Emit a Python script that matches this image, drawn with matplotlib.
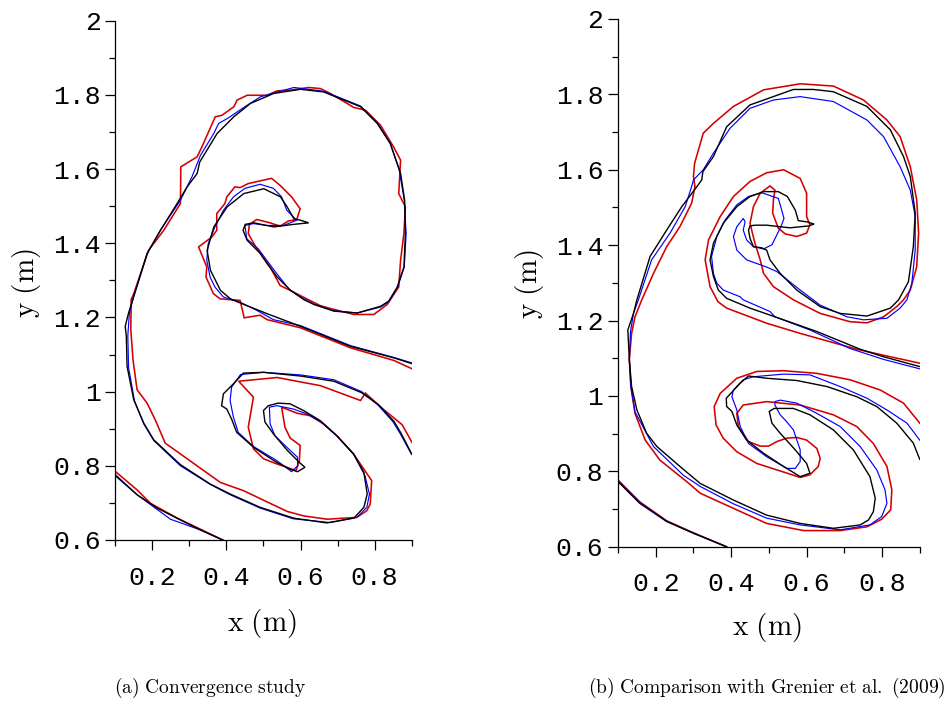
import numpy as np
import matplotlib
matplotlib.use("Agg")
import matplotlib.pyplot as plt
from matplotlib.ticker import MultipleLocator, FormatStrFormatter

plt.rcParams['mathtext.fontset'] = 'cm'

# ---- digitised interface contours (x, y) in metres ----
# (a) convergence study
a_black = [(0.900,0.832),(0.870,0.890),(0.852,0.920),(0.810,0.965),(0.765,0.997),(0.690,1.028),
           (0.600,1.042),(0.500,1.052),(0.446,1.050),(0.419,1.021),(0.392,0.994),(0.387,0.962),
           (0.401,0.953),(0.414,0.926),(0.428,0.890),(0.473,0.850),(0.536,0.809),(0.572,0.791),
           (0.592,0.784),(0.612,0.796),(0.597,0.809),(0.563,0.843),(0.527,0.886),(0.504,0.918),
           (0.500,0.949),(0.513,0.962),(0.540,0.969),(0.572,0.967),(0.608,0.949),(0.653,0.922),
           (0.698,0.881),(0.743,0.832),(0.771,0.782),(0.780,0.724),(0.771,0.688),(0.744,0.659),
           (0.671,0.646),(0.581,0.659),(0.491,0.688),(0.410,0.724),(0.356,0.751),(0.276,0.803),
           (0.204,0.870),(0.177,0.915),(0.150,0.978),(0.132,1.068),(0.130,1.149),(0.127,1.176),
           (0.136,1.212),(0.150,1.256),(0.186,1.372),(0.222,1.435),(0.267,1.507),(0.294,1.552),
           (0.321,1.588),(0.328,1.619),(0.375,1.696),(0.420,1.741),(0.465,1.777),(0.528,1.804),
           (0.600,1.815),(0.662,1.808),(0.762,1.768),(0.807,1.723),(0.842,1.669),(0.870,1.588),
           (0.881,1.516),(0.883,1.426),(0.879,1.336),(0.861,1.282),(0.838,1.244),(0.816,1.230),
           (0.753,1.212),(0.690,1.217),(0.636,1.235),(0.609,1.248),(0.573,1.273),(0.537,1.309),
           (0.510,1.345),(0.492,1.372),(0.456,1.408),(0.445,1.435),(0.451,1.451),(0.474,1.455),
           (0.528,1.444),(0.582,1.451),(0.622,1.455),(0.600,1.462),(0.582,1.466),(0.564,1.498),
           (0.546,1.525),(0.501,1.547),(0.447,1.534),(0.402,1.498),(0.366,1.444),(0.348,1.381),
           (0.357,1.327),(0.384,1.273),(0.411,1.250),(0.440,1.238),(0.510,1.210),(0.600,1.176),
           (0.735,1.122),(0.852,1.091),(0.902,1.075)]
a_blue = [(0.900,0.830),(0.870,0.885),(0.850,0.918),(0.810,0.963),(0.765,1.000),(0.690,1.032),
          (0.600,1.045),(0.500,1.052),(0.438,1.046),(0.414,1.012),(0.410,0.976),(0.419,0.931),
          (0.432,0.890),(0.473,0.852),(0.536,0.814),(0.576,0.784),(0.592,0.800),(0.592,0.823),
          (0.563,0.850),(0.531,0.881),(0.518,0.913),(0.516,0.958),(0.536,0.962),(0.581,0.953),
          (0.617,0.940),(0.653,0.920),(0.698,0.881),(0.743,0.832),(0.774,0.773),(0.786,0.724),
          (0.779,0.688),(0.752,0.661),(0.680,0.647),(0.581,0.657),(0.491,0.686),(0.410,0.722),
          (0.356,0.750),(0.276,0.800),(0.204,0.868),(0.177,0.913),(0.152,0.975),(0.136,1.065),
          (0.134,1.150),(0.138,1.210),(0.151,1.262),(0.186,1.372),(0.222,1.435),(0.276,1.516),
          (0.307,1.579),(0.330,1.637),(0.366,1.696),(0.379,1.723),(0.402,1.736),(0.456,1.772),
          (0.492,1.795),(0.582,1.820),(0.662,1.810),(0.762,1.770),(0.807,1.725),(0.842,1.670),
          (0.866,1.600),(0.880,1.516),(0.885,1.426),(0.880,1.336),(0.862,1.282),(0.838,1.242),
          (0.816,1.228),(0.753,1.212),(0.690,1.218),(0.636,1.236),(0.609,1.250),(0.570,1.275),
          (0.536,1.318),(0.509,1.354),(0.486,1.385),(0.455,1.412),(0.450,1.448),(0.473,1.453),
          (0.509,1.448),(0.554,1.448),(0.590,1.462),(0.581,1.471),(0.563,1.489),(0.549,1.525),
          (0.527,1.548),(0.491,1.559),(0.450,1.548),(0.419,1.525),(0.392,1.489),(0.369,1.444),
          (0.351,1.399),(0.347,1.354),(0.356,1.309),(0.369,1.282),(0.392,1.255),(0.437,1.241),
          (0.482,1.219),(0.527,1.194),(0.600,1.178),(0.735,1.124),(0.852,1.092),(0.902,1.077)]
a_red = [(0.902,0.861),(0.874,0.911),(0.825,0.951),(0.775,0.996),(0.762,0.976),(0.654,1.016),
         (0.537,1.038),(0.433,1.028),(0.473,0.985),(0.459,0.904),(0.473,0.846),(0.500,0.819),
         (0.536,0.805),(0.563,0.796),(0.588,0.787),(0.597,0.814),(0.599,0.855),(0.572,0.875),
         (0.558,0.904),(0.549,0.958),(0.590,0.942),(0.626,0.935),(0.662,0.913),(0.698,0.881),
         (0.743,0.832),(0.775,0.785),(0.792,0.760),(0.788,0.697),(0.779,0.679),(0.752,0.661),
         (0.672,0.656),(0.608,0.665),(0.564,0.677),(0.446,0.733),(0.384,0.755),(0.235,0.861),
         (0.208,0.924),(0.186,0.969),(0.159,1.005),(0.148,1.086),(0.142,1.167),(0.143,1.248),
         (0.150,1.264),(0.190,1.381),(0.231,1.435),(0.276,1.507),(0.277,1.606),(0.321,1.633),
         (0.334,1.660),(0.370,1.741),(0.388,1.745),(0.420,1.768),(0.429,1.786),(0.456,1.799),
         (0.510,1.799),(0.537,1.811),(0.573,1.813),(0.622,1.820),(0.654,1.817),(0.680,1.804),
         (0.744,1.766),(0.775,1.759),(0.816,1.718),(0.851,1.660),(0.870,1.624),(0.865,1.534),
         (0.883,1.498),(0.879,1.426),(0.870,1.354),(0.865,1.282),(0.834,1.235),(0.798,1.208),
         (0.744,1.208),(0.681,1.224),(0.653,1.232),(0.617,1.250),(0.572,1.273),(0.545,1.286),
         (0.518,1.336),(0.495,1.367),(0.477,1.394),(0.459,1.426),(0.462,1.451),(0.482,1.464),
         (0.518,1.455),(0.545,1.446),(0.567,1.460),(0.590,1.464),(0.599,1.493),(0.576,1.525),
         (0.545,1.556),(0.522,1.575),(0.459,1.561),(0.437,1.550),(0.423,1.552),(0.401,1.525),
         (0.396,1.507),(0.374,1.480),(0.374,1.435),(0.361,1.417),(0.325,1.390),(0.347,1.336),
         (0.345,1.309),(0.365,1.264),(0.383,1.250),(0.437,1.246),(0.448,1.199),(0.491,1.206),
         (0.510,1.194),(0.600,1.172),(0.735,1.118),(0.852,1.084),(0.902,1.061)]
a_black_low = [(0.100,0.776),(0.159,0.722),(0.213,0.686),(0.276,0.654),(0.330,0.627),(0.390,0.600)]
a_blue_low = [(0.100,0.773),(0.159,0.722),(0.249,0.656),(0.330,0.627),(0.390,0.600)]
a_red_low = [(0.100,0.785),(0.159,0.735),(0.195,0.699),(0.267,0.659),(0.330,0.629),(0.390,0.600)]

# (b) comparison with Grenier et al. (2009)
b_black = [(0.900,0.832),(0.883,0.875),(0.839,0.928),(0.786,0.972),(0.733,0.998),(0.654,1.025),
           (0.574,1.041),(0.494,1.047),(0.446,1.053),(0.424,1.034),(0.387,0.994),(0.388,0.972),
           (0.402,0.959),(0.415,0.923),(0.441,0.883),(0.486,0.848),(0.539,0.813),(0.583,0.786),
           (0.609,0.795),(0.600,0.821),(0.570,0.857),(0.530,0.901),(0.508,0.928),(0.501,0.959),
           (0.514,0.967),(0.565,0.967),(0.609,0.950),(0.671,0.910),(0.724,0.857),(0.768,0.786),
           (0.782,0.729),(0.777,0.693),(0.764,0.671),(0.742,0.658),(0.671,0.649),(0.583,0.662),
           (0.494,0.684),(0.406,0.724),(0.318,0.768),(0.269,0.809),(0.203,0.866),(0.176,0.901),
           (0.150,0.963),(0.136,1.025),(0.130,1.096),(0.126,1.175),(0.141,1.219),(0.150,1.255),
           (0.185,1.370),(0.229,1.440),(0.269,1.502),(0.309,1.555),(0.322,1.573),(0.325,1.595),
           (0.353,1.635),(0.388,1.714),(0.450,1.772),(0.565,1.813),(0.618,1.813),(0.671,1.807),
           (0.760,1.768),(0.822,1.706),(0.857,1.635),(0.875,1.582),(0.888,1.485),(0.883,1.396),
           (0.870,1.303),(0.844,1.255),(0.822,1.233),(0.760,1.212),(0.689,1.219),(0.636,1.237),
           (0.574,1.281),(0.530,1.325),(0.503,1.361),(0.494,1.387),(0.481,1.393),
           (0.459,1.396),(0.450,1.418),(0.446,1.440),(0.450,1.451),(0.463,1.453),(0.494,1.453),
           (0.556,1.446),(0.605,1.451),(0.620,1.456),(0.600,1.462),(0.578,1.465),(0.570,1.493),
           (0.549,1.529),(0.525,1.542),(0.486,1.542),(0.450,1.529),(0.415,1.502),(0.379,1.458),
           (0.353,1.405),(0.344,1.361),(0.353,1.317),(0.366,1.281),(0.388,1.259),(0.450,1.233),
           (0.539,1.202),(0.627,1.171),(0.742,1.124),(0.804,1.104),(0.900,1.078)]
b_blue = [(0.900,0.883),(0.866,0.928),(0.813,0.963),(0.760,0.994),(0.689,1.025),(0.609,1.056),
          (0.539,1.058),(0.459,1.051),(0.432,1.043),(0.406,1.016),(0.402,0.998),(0.415,0.963),
          (0.424,0.919),(0.446,0.874),(0.494,0.839),(0.547,0.808),(0.570,0.808),(0.583,0.826),
          (0.583,0.857),(0.565,0.910),(0.547,0.932),(0.530,0.950),(0.516,0.976),(0.516,0.985),
          (0.530,0.989),(0.574,0.981),(0.627,0.954),(0.689,0.919),(0.742,0.866),(0.786,0.804),
          (0.808,0.751),(0.813,0.715),(0.799,0.680),(0.768,0.658),(0.689,0.645),(0.583,0.658),
          (0.494,0.676),(0.406,0.714),(0.318,0.760),(0.273,0.790),(0.194,0.866),(0.145,0.958),
          (0.134,1.025),(0.130,1.096),(0.133,1.170),(0.141,1.219),(0.154,1.255),(0.189,1.361),
          (0.238,1.432),(0.278,1.502),(0.295,1.555),(0.300,1.573),(0.326,1.600),(0.353,1.644),
          (0.397,1.710),(0.450,1.763),(0.512,1.785),(0.583,1.794),(0.671,1.781),(0.760,1.732),
          (0.804,1.688),(0.848,1.608),(0.875,1.546),(0.888,1.476),(0.888,1.387),(0.879,1.299),
          (0.866,1.255),(0.848,1.233),(0.813,1.206),(0.751,1.202),(0.707,1.210),(0.636,1.241),
          (0.583,1.281),(0.521,1.330),(0.494,1.342),(0.441,1.361),(0.415,1.387),
          (0.406,1.423),(0.415,1.449),(0.432,1.471),(0.437,1.462),(0.432,1.440),(0.441,1.414),
          (0.459,1.396),(0.486,1.390),(0.508,1.401),(0.521,1.427),(0.534,1.454),(0.540,1.471),
          (0.534,1.493),(0.525,1.524),(0.481,1.539),(0.446,1.529),(0.415,1.507),(0.384,1.467),
          (0.362,1.423),(0.348,1.370),(0.353,1.325),(0.362,1.299),(0.379,1.281),(0.424,1.263),
          (0.432,1.255),(0.503,1.224),(0.516,1.210),(0.609,1.175),(0.715,1.126),(0.804,1.097),
          (0.900,1.072)]
b_red = [(0.900,0.928),(0.857,0.981),(0.795,1.016),(0.715,1.043),(0.627,1.060),(0.539,1.067),
         (0.468,1.065),(0.415,1.047),(0.371,1.007),(0.355,0.972),(0.360,0.923),(0.379,0.888),
         (0.415,0.852),(0.468,0.821),(0.521,0.804),(0.583,0.784),(0.609,0.791),(0.631,0.813),
         (0.636,0.835),(0.627,0.861),(0.600,0.883),(0.574,0.890),(0.547,0.888),(0.521,0.879),
         (0.499,0.867),(0.477,0.867),(0.446,0.879),(0.419,0.919),(0.415,0.954),(0.432,0.976),
         (0.494,0.985),(0.583,0.976),(0.671,0.950),(0.733,0.919),(0.777,0.874),(0.813,0.813),
         (0.826,0.751),(0.823,0.698),(0.799,0.673),(0.760,0.653),(0.689,0.643),(0.592,0.643),
         (0.494,0.662),(0.406,0.702),(0.318,0.742),(0.282,0.773),(0.211,0.830),(0.172,0.883),
         (0.145,0.954),(0.134,1.025),(0.130,1.096),(0.136,1.166),(0.145,1.210),(0.163,1.255),
         (0.194,1.325),(0.229,1.396),(0.264,1.449),(0.295,1.511),(0.304,1.555),(0.300,1.582),
         (0.303,1.617),(0.326,1.697),(0.353,1.723),(0.406,1.768),(0.486,1.812),(0.583,1.828),
         (0.671,1.822),(0.751,1.785),(0.813,1.732),(0.848,1.688),(0.875,1.608),(0.892,1.520),
         (0.897,1.432),(0.892,1.343),(0.875,1.281),(0.857,1.255),(0.839,1.237),(0.804,1.210),
         (0.760,1.194),(0.715,1.197),(0.636,1.219),(0.565,1.255),(0.512,1.290),(0.486,1.325),
         (0.477,1.361),(0.463,1.405),(0.450,1.458),(0.459,1.502),(0.477,1.538),(0.503,1.557),
         (0.516,1.546),(0.512,1.520),(0.510,1.485),(0.525,1.445),(0.543,1.430),(0.574,1.423),
         (0.600,1.432),(0.609,1.454),(0.600,1.476),(0.600,1.538),(0.583,1.577),(0.539,1.600),
         (0.494,1.592),(0.450,1.569),(0.406,1.529),(0.371,1.476),(0.340,1.414),(0.331,1.361),
         (0.344,1.290),(0.365,1.250),(0.388,1.233),(0.494,1.193),(0.583,1.166),(0.733,1.124),
         (0.804,1.108),(0.900,1.087)]
b_black_low = [(0.100,0.773),(0.158,0.715),(0.229,0.667),(0.300,0.636),(0.388,0.600)]
b_blue_low = [(0.100,0.774),(0.158,0.717),(0.229,0.668),(0.300,0.636),(0.388,0.600)]
b_red_low = [(0.100,0.777),(0.158,0.719),(0.229,0.669),(0.300,0.637),(0.388,0.600)]

tick_font = 'Liberation Mono'
RED = '#d40000'
BLUE = '#0000ff'


def panel(ax, red, blue, black, red_low, blue_low, black_low):
    for pts, col, lw in [(red, RED, 1.15), (red_low, RED, 1.15),
                         (blue, BLUE, 0.85), (blue_low, BLUE, 0.85),
                         (black, 'black', 1.0), (black_low, 'black', 1.0)]:
        x, y = np.array(pts).T
        ax.plot(x, y, color=col, lw=lw, solid_joinstyle='miter')
    ax.set_xlim(0.1, 0.9)
    ax.set_ylim(0.6, 2.0)
    ax.spines['top'].set_visible(False)
    ax.spines['right'].set_visible(False)
    for s in ['left', 'bottom']:
        ax.spines[s].set_linewidth(0.9)
    ax.xaxis.set_major_locator(MultipleLocator(0.2))
    ax.xaxis.set_minor_locator(MultipleLocator(0.1))
    ax.yaxis.set_major_locator(MultipleLocator(0.2))
    ax.yaxis.set_minor_locator(MultipleLocator(0.1))
    ax.xaxis.set_major_formatter(FormatStrFormatter('%g'))
    ax.yaxis.set_major_formatter(FormatStrFormatter('%g'))
    ax.tick_params(which='major', length=7.5, width=0.9, direction='out')
    ax.tick_params(which='minor', length=4, width=0.9, direction='out')
    ax.tick_params(axis='x', which='major', pad=11)
    ax.tick_params(axis='y', which='major', pad=3)
    for lab in ax.get_xticklabels() + ax.get_yticklabels():
        lab.set_fontfamily(tick_font)
        lab.set_fontsize(19)


fig = plt.figure(figsize=(9.53, 7.02), dpi=100)
ax1 = fig.add_axes([0.1209, 0.2308, 0.3111, 0.7397])
ax2 = fig.add_axes([0.6485, 0.2211, 0.3166, 0.7519])

panel(ax1, a_red, a_blue, a_black, a_red_low, a_blue_low, a_black_low)
panel(ax2, b_red, b_blue, b_black, b_red_low, b_blue_low, b_black_low)

lab = r'$\mathrm{x\ (m)}$'
fig.text(262 / 953, 1 - 623 / 702, lab, size=21, ha='center', va='center')
fig.text(767 / 953, 1 - 628 / 702, lab, size=21, ha='center', va='center')
fig.text(27 / 953, 1 - 283 / 702, r'$\mathrm{y\ (m)}$', size=21, ha='center', va='center', rotation=90)
fig.text(530 / 953, 1 - 284 / 702, r'$\mathrm{y\ (m)}$', size=21, ha='center', va='center', rotation=90)

fig.text(210 / 953, 1 - 688 / 702, r'$\mathrm{(a)\ Convergence\ study}$', size=14, ha='center', va='center')
fig.text(767 / 953, 1 - 688 / 702, r'$\mathrm{(b)\ Comparison\ with\ Grenier\ et\ al.\ (2009)}$',
         size=14, ha='center', va='center')

fig.savefig('out.png', dpi=100)
